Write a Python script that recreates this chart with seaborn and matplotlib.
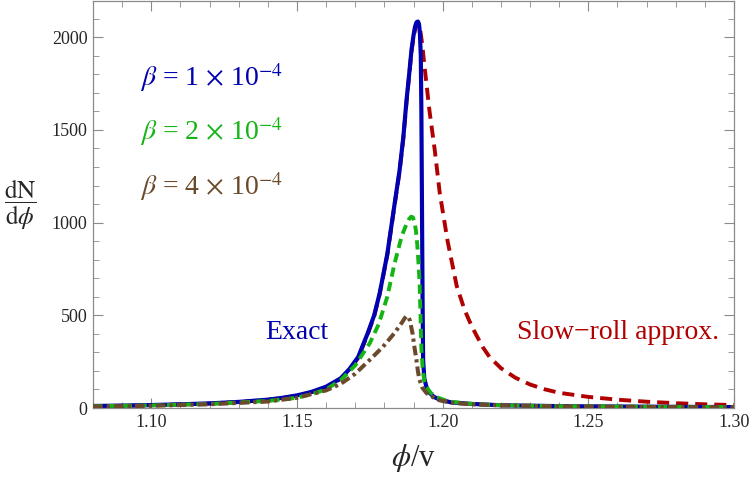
import numpy as np
import pandas as pd
import matplotlib
matplotlib.use("Agg")
import matplotlib.pyplot as plt
import seaborn as sns
from matplotlib.ticker import MultipleLocator

# ---- data ----
exact_x = [1.08, 1.09, 1.10, 1.11, 1.12, 1.13, 1.14, 1.145, 1.15, 1.155, 1.16, 1.165, 1.168,
           1.171, 1.1742, 1.1765, 1.1784, 1.181, 1.1835, 1.1852, 1.1865, 1.1876, 1.1885, 1.1893,
           1.1900, 1.1905, 1.1910, 1.1915, 1.1919, 1.1922, 1.1925, 1.1927, 1.1929, 1.1931,
           1.1933, 1.1937, 1.1945, 1.1955, 1.197, 1.199, 1.203, 1.21, 1.22, 1.24, 1.27, 1.30]
exact_y = [11, 13, 16, 20, 25, 33, 45, 55, 68, 87, 115, 160, 210,
           275, 400, 500, 620, 830, 1100, 1280, 1460, 1660, 1800, 1930,
           2010, 2055, 2080, 2085, 2070, 2020, 1900, 1600, 1100, 600,
           260, 160, 110, 82, 60, 45, 30, 22, 15, 10, 7, 5]

slow_x = [1.08, 1.09, 1.10, 1.11, 1.12, 1.13, 1.14, 1.145, 1.15, 1.155, 1.16, 1.165, 1.168,
          1.171, 1.1742, 1.1765, 1.1784, 1.181, 1.1835, 1.1852, 1.1865, 1.1876, 1.1885, 1.1893,
          1.1900, 1.1906, 1.1912, 1.1917, 1.1923, 1.1930, 1.1938, 1.1955, 1.1973, 1.199, 1.2017,
          1.2048, 1.2075, 1.21, 1.2137, 1.2161, 1.22, 1.225, 1.23, 1.235, 1.24, 1.25, 1.26,
          1.27, 1.28, 1.29, 1.30]
slow_y = [10, 12, 15, 19, 24, 32, 44, 54, 66, 85, 112, 157, 205,
          270, 395, 495, 615, 825, 1095, 1275, 1455, 1650, 1790, 1920,
          2000, 2045, 2070, 2075, 2040, 1960, 1840, 1600, 1390, 1160, 900,
          660, 530, 440, 330, 275, 215, 163, 127, 101, 82, 60, 45,
          34, 26, 20, 16]

b2_x = [1.08, 1.10, 1.12, 1.14, 1.15, 1.155, 1.16, 1.165, 1.17, 1.175, 1.178, 1.181, 1.1835,
        1.186, 1.1878, 1.1885, 1.1892, 1.1898, 1.1903, 1.1908, 1.1913, 1.1918, 1.1921, 1.1924,
        1.1927, 1.1932, 1.1938, 1.1945, 1.196, 1.198, 1.202, 1.21, 1.22, 1.24, 1.27, 1.30]
b2_y = [10, 14, 22, 38, 55, 75, 100, 150, 230, 350, 450, 600, 780,
        930, 1000, 1020, 1032, 1028, 1005, 960, 880, 760, 670, 500,
        320, 200, 140, 112, 80, 58, 35, 22, 15, 10, 7, 5]

b4_x = [1.08, 1.10, 1.12, 1.14, 1.15, 1.16, 1.165, 1.17, 1.175, 1.1795, 1.1835, 1.1862,
        1.1870, 1.1876, 1.1882, 1.1888, 1.1893, 1.1897, 1.1903, 1.191, 1.1915, 1.192, 1.193,
        1.1945, 1.198, 1.203, 1.21, 1.22, 1.24, 1.27, 1.30]
b4_y = [8, 12, 20, 35, 55, 95, 130, 185, 260, 330, 405, 465,
        485, 495, 493, 470, 430, 400, 330, 260, 200, 155, 110,
        80, 45, 28, 20, 14, 9, 6, 4]

x_ticks = [1.10, 1.15, 1.20, 1.25, 1.30]
x_ticklabels = ["1.10", "1.15", "1.20", "1.25", "1.30"]
y_ticks = [0, 500, 1000, 1500, 2000]
beta_labels = [r"$\beta$ = 1 $\times$ 10$^{-4}$",
               r"$\beta$ = 2 $\times$ 10$^{-4}$",
               r"$\beta$ = 4 $\times$ 10$^{-4}$"]

BLUE = "#0000b0"
RED = "#b00000"
GREEN = "#14b414"
BROWN = "#6b4a2b"

sns.set_style("ticks")
plt.rcParams["font.family"] = ["Liberation Serif", "DejaVu Serif"]
plt.rcParams["mathtext.fontset"] = "stix"

fig = plt.figure(figsize=(7.5, 4.84), dpi=100)
ax = fig.add_axes([0.124, 0.157, 0.9787 - 0.124, 0.997 - 0.157])

df_slow = pd.DataFrame({"x": slow_x, "y": slow_y})
df_exact = pd.DataFrame({"x": exact_x, "y": exact_y})
df_b2 = pd.DataFrame({"x": b2_x, "y": b2_y})
df_b4 = pd.DataFrame({"x": b4_x, "y": b4_y})

sns.lineplot(data=df_slow, x="x", y="y", ax=ax, color=RED, lw=2.8,
             estimator=None, sort=False, linestyle=(0, (3.1, 1.8)), zorder=2)
sns.lineplot(data=df_exact, x="x", y="y", ax=ax, color=BLUE, lw=3.0,
             estimator=None, sort=False, zorder=3, solid_joinstyle="round")
sns.lineplot(data=df_b2, x="x", y="y", ax=ax, color=GREEN, lw=2.8,
             estimator=None, sort=False, linestyle=(0, (2.4, 1.4)), zorder=4)
sns.lineplot(data=df_b4, x="x", y="y", ax=ax, color=BROWN, lw=2.9,
             estimator=None, sort=False, linestyle=(0, (2.4, 1.0, 0.8, 1.0)), zorder=5)

ax.set_xlim(1.08, 1.30)
ax.set_ylim(0, 2193)
ax.set_xticks(x_ticks)
ax.set_xticklabels(x_ticklabels)
ax.set_yticks(y_ticks)
ax.xaxis.set_minor_locator(MultipleLocator(0.01))
ax.yaxis.set_minor_locator(MultipleLocator(100))
ax.tick_params(which="both", direction="in", top=True, right=True, color="#8a8a8a",
               labelsize=13, pad=4)
ax.tick_params(which="major", length=7, width=0.8)
ax.tick_params(which="minor", length=4, width=0.6)
for sp in ax.spines.values():
    sp.set_color("#8a8a8a")
    sp.set_linewidth(0.9)

ax.set_xlabel(r"$\phi$/v", fontsize=22, labelpad=8)
ax.set_ylabel(r"$\dfrac{\mathrm{dN}}{\mathrm{d}\phi}$", fontsize=18, rotation=0,
              va="center", ha="center")
ax.yaxis.set_label_coords(-0.114, 0.50)

colors = [BLUE, GREEN, BROWN]
ypos = [1780, 1489, 1192]
for lab, c, yp in zip(beta_labels, colors, ypos):
    ax.text(1.0963, yp, lab, color=c, fontsize=20, ha="left", va="center")

ax.text(1.1498, 405, "Exact", color=BLUE, fontsize=20, ha="center", va="center")
ax.text(1.2601, 405, "Slow\u2212roll approx.", color=RED, fontsize=20, ha="center", va="center")

fig.savefig("out.png", dpi=100)
